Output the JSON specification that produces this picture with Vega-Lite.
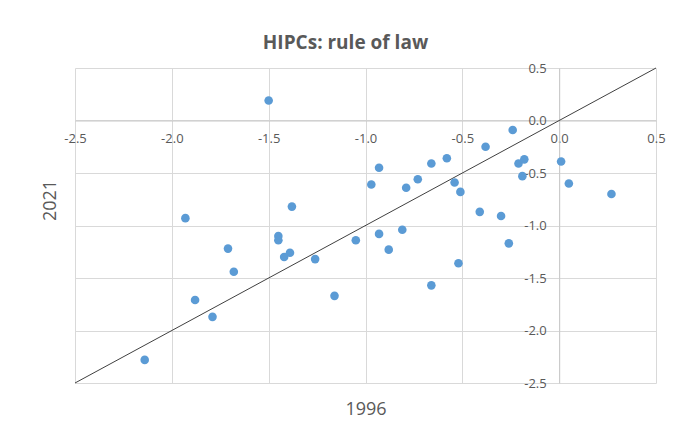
{
  "$schema": "https://vega.github.io/schema/vega-lite/v6.json",
  "width": 581,
  "height": 315,
  "autosize": {"type": "none"},
  "padding": {"left": 75, "top": 68, "right": 19, "bottom": 44},
  "background": "white",
  "config": {
    "font": "Open Sans",
    "view": {"stroke": null},
    "axis": {
      "gridColor": "#D9D9D9",
      "gridWidth": 1,
      "domainColor": "#C8C8C8",
      "domainWidth": 1,
      "ticks": false,
      "labelColor": "#595959",
      "labelFont": "Open Sans",
      "labelFontSize": 13,
      "titleColor": "#595959",
      "titleFont": "Open Sans",
      "titleFontSize": 18,
      "titleFontWeight": "normal"
    }
  },
  "title": {
    "text": "HIPCs: rule of law",
    "font": "Open Sans",
    "fontSize": 19,
    "fontWeight": "bold",
    "color": "#595959",
    "anchor": "middle",
    "frame": "group",
    "baseline": "alphabetic",
    "offset": 18,
    "dx": -20,
    "dy": 24
  },
  "datasets": {
    "diag": [
      {"x": -2.5, "y": -2.5},
      {"x": 0.5, "y": 0.5}
    ],
    "pts": [
      {"x": -1.93, "y": -0.93},
      {"x": -1.71, "y": -1.22},
      {"x": -1.68, "y": -1.44},
      {"x": -1.88, "y": -1.71},
      {"x": -1.79, "y": -1.87},
      {"x": -2.14, "y": -2.28},
      {"x": -1.38, "y": -0.82},
      {"x": -1.45, "y": -1.10},
      {"x": -1.45, "y": -1.14},
      {"x": -1.39, "y": -1.26},
      {"x": -1.42, "y": -1.30},
      {"x": -1.26, "y": -1.32},
      {"x": -1.16, "y": -1.67},
      {"x": -1.05, "y": -1.14},
      {"x": -0.97, "y": -0.61},
      {"x": -0.93, "y": -0.45},
      {"x": -0.93, "y": -1.08},
      {"x": -0.88, "y": -1.23},
      {"x": -0.81, "y": -1.04},
      {"x": -0.79, "y": -0.64},
      {"x": -0.73, "y": -0.56},
      {"x": -0.66, "y": -0.41},
      {"x": -0.58, "y": -0.36},
      {"x": -0.66, "y": -1.57},
      {"x": -0.54, "y": -0.59},
      {"x": -0.51, "y": -0.68},
      {"x": -0.52, "y": -1.36},
      {"x": -0.41, "y": -0.87},
      {"x": -0.38, "y": -0.25},
      {"x": -0.30, "y": -0.91},
      {"x": -0.26, "y": -1.17},
      {"x": -0.24, "y": -0.09},
      {"x": -0.21, "y": -0.41},
      {"x": -0.18, "y": -0.37},
      {"x": -0.19, "y": -0.53},
      {"x": 0.01, "y": -0.39},
      {"x": 0.05, "y": -0.60},
      {"x": 0.27, "y": -0.70},
      {"x": -1.50, "y": 0.19}
    ]
  },
  "layer": [
    {
      "data": {"name": "diag"},
      "mark": {"type": "line", "color": "#404040", "strokeWidth": 1},
      "encoding": {
        "x": {
          "field": "x",
          "type": "quantitative",
          "scale": {"domain": [-2.5, 0.5], "nice": false, "zero": false},
          "axis": {
            "title": "1996",
            "orient": "bottom",
            "offset": -262.5,
            "values": [-2.5, -2, -1.5, -1, -0.5, 0, 0.5],
            "format": ".1f",
            "labelExpr": "replace(datum.label, '\u2212', '-')",
            "labelPadding": 12,
            "labelFlush": false,
            "labelOverlap": false,
            "titleX": 290.5,
            "titleY": 289,
            "titleBaseline": "middle",
            "titleAnchor": null
          }
        },
        "y": {
          "field": "y",
          "type": "quantitative",
          "scale": {"domain": [-2.5, 0.5], "nice": false, "zero": false},
          "axis": {
            "title": "2021",
            "orient": "left",
            "offset": -484.2,
            "values": [-2.5, -2, -1.5, -1, -0.5, 0, 0.5],
            "format": ".1f",
            "labelExpr": "replace(datum.label, '\u2212', '-')",
            "labelPadding": 13,
            "labelFlush": false,
            "labelOverlap": false,
            "titleX": -509,
            "titleY": 132,
            "titleAngle": -90,
            "titleBaseline": "middle",
            "titleAnchor": null
          }
        }
      }
    },
    {
      "data": {"name": "pts"},
      "mark": {"type": "circle", "color": "#5B9BD5", "opacity": 1, "size": 74},
      "encoding": {
        "x": {"field": "x", "type": "quantitative"},
        "y": {"field": "y", "type": "quantitative"}
      }
    }
  ]
}
